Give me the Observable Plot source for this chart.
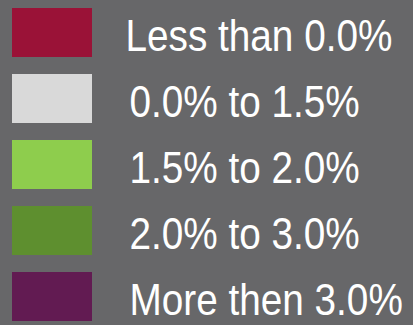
<!DOCTYPE html>
<html>
<head>
<meta charset="utf-8">
<script src="https://cdn.jsdelivr.net/npm/d3@7"></script>
<script src="https://cdn.jsdelivr.net/npm/@observablehq/plot@0.6"></script>
<style>
  html, body { margin: 0; padding: 0; background: #676769; }
  #chart { width: 413px; height: 325px; overflow: hidden; }
</style>
</head>
<body>
<div id="chart"></div>
<script>
const labels = ["Less than 0.0%", "0.0% to 1.5%", "1.5% to 2.0%", "2.0% to 3.0%", "More then 3.0%"];
const colors = ["#9a1237", "#d9d9d9", "#8ecd4d", "#5e8f2f", "#621b52"];

const data = labels.map((label, i) => ({label, color: colors[i], first: i === 0}));

const textOpts = {
  y: "label", text: "label", frameAnchor: "left", textAnchor: "start",
  dy: 4, fill: "white", fontSize: 44
};

const chart = Plot.plot({
  width: 413,
  height: 325,
  marginTop: 6,
  marginBottom: 1,
  marginLeft: 0,
  marginRight: 0,
  style: {background: "#676769", fontFamily: "'Liberation Sans', Arial, sans-serif"},
  y: {type: "band", domain: labels, paddingInner: 0.2537, paddingOuter: 0, axis: null},
  marks: [
    Plot.rect(data, {y: "label", fill: "color", insetLeft: 12, insetRight: 321}),
    Plot.text(data.filter(d => d.first), {...textOpts, dx: 125}),
    Plot.text(data.filter(d => !d.first), {...textOpts, dx: 129})
  ]
});
document.getElementById("chart").appendChild(chart);
// horizontal condensing of the labels (the reference uses a narrow rendering)
const squeeze = 0.88;
chart.querySelectorAll("text").forEach(t => {
  const parent = t.parentNode;
  const r = t.getBoundingClientRect();
  const pt = chart.createSVGPoint();
  pt.x = r.left; pt.y = r.top;
  const p = pt.matrixTransform(parent.getScreenCTM().inverse());
  const g = document.createElementNS("http://www.w3.org/2000/svg", "g");
  g.setAttribute("transform", `matrix(${squeeze},0,0,1,${(p.x * (1 - squeeze)).toFixed(2)},0)`);
  parent.insertBefore(g, t);
  g.appendChild(t);
});
</script>
</body>
</html>
